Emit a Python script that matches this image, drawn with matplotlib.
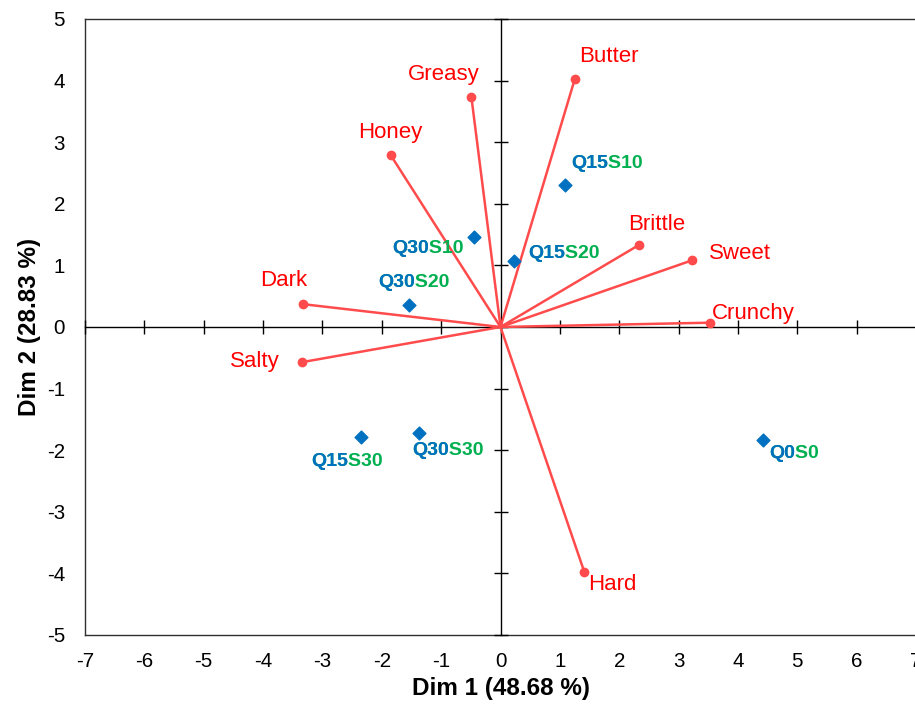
import matplotlib
matplotlib.use('Agg')
import matplotlib.pyplot as plt

# ---- data ----
var_names = ['Greasy', 'Butter', 'Honey', 'Dark', 'Salty', 'Brittle', 'Sweet', 'Crunchy', 'Hard']
var_dim1 = [-0.49, 1.25, -1.85, -3.32, -3.34, 2.33, 3.22, 3.53, 1.41]
var_dim2 = [3.73, 4.02, 2.79, 0.37, -0.57, 1.33, 1.08, 0.07, -3.97]

obs_q = ['Q15', 'Q30', 'Q15', 'Q30', 'Q15', 'Q30', 'Q0']
obs_s = ['S10', 'S10', 'S20', 'S20', 'S30', 'S30', 'S0']
obs_dim1 = [1.08, -0.45, 0.23, -1.54, -2.35, -1.37, 4.42]
obs_dim2 = [2.30, 1.46, 1.07, 0.35, -1.79, -1.72, -1.83]

x_ticks = list(range(-7, 8))
y_ticks = list(range(-5, 6))
x_title = 'Dim 1 (48.68 %)'
y_title = 'Dim 2 (28.83 %)'

# ---- label offsets (pixels) ----
var_off = [(-28, 22.7), (33.7, 22.6), (-0.5, 23), (-19.3, 23.3), (-47, 1),
           (17.4, 20.3), (48.3, 7), (43.5, 9.4), (28, -13.3)]
obs_off = [(6.7, 22.3), (-81.3, -11.7), (14, 8), (-31, 22.6), (-50, -24.4),
           (-7, -17.6), (6.3, -13.6)]

plt.rcParams['font.family'] = ['Liberation Sans', 'DejaVu Sans']
plt.rcParams['axes.unicode_minus'] = False

DPI = 100
fig = plt.figure(figsize=(9.15, 7.11), dpi=DPI)
W, H = 915, 711
left, right, top, bottom = 85, 916, 19, 635
pos = [left / W, 1 - bottom / H, (right - left) / W, (bottom - top) / H]
ax = fig.add_axes(pos)

ax.set_xlim(-7, 7)
ax.set_ylim(-5, 5)
ax.set_xticks(x_ticks)
ax.set_yticks(y_ticks)
ax.tick_params(length=0, labelsize=14.8)
ax.tick_params(axis='x', pad=12.5)
ax.tick_params(axis='y', pad=14.4)
for s in ['left', 'top', 'bottom']:
    ax.spines[s].set_color('#303030')
    ax.spines[s].set_linewidth(1.0)
ax.spines['right'].set_visible(False)
ax.set_xlabel(x_title, fontsize=17.5, fontweight='bold', labelpad=4)
ax.set_ylabel(y_title, fontsize=17.5, fontweight='bold', labelpad=4)

# central axes with crossing ticks
ax2 = fig.add_axes(pos, sharex=ax, sharey=ax)
ax2.patch.set_visible(False)
ax2.spines['left'].set_position(('data', 0))
ax2.spines['bottom'].set_position(('data', 0))
ax2.spines['top'].set_visible(False)
ax2.spines['right'].set_visible(False)
for s in ['left', 'bottom']:
    ax2.spines[s].set_color('black')
    ax2.spines[s].set_linewidth(1.0)
ax2.tick_params(direction='inout', length=10, width=1.0, labelleft=False,
                labelbottom=False, color='black')

red_line = '#FF4B4B'
red_text = '#FF0000'
blue = '#0070C0'
green = '#00B050'

for n, x, y, (dx, dy) in zip(var_names, var_dim1, var_dim2, var_off):
    ax2.plot([0, x], [0, y], color=red_line, lw=1.8, zorder=3)
    ax2.plot([x], [y], marker='o', ms=6, color=red_line, zorder=4)
    ax2.annotate(n, xy=(x, y), xytext=(dx * 72 / DPI, dy * 72 / DPI),
                 textcoords='offset points', ha='center', va='center',
                 fontsize=16, color=red_text)

ax2.scatter(obs_dim1, obs_dim2, marker='D', s=6.5 ** 2, color=blue, zorder=5)
for q, s, x, y, (dx, dy) in zip(obs_q, obs_s, obs_dim1, obs_dim2, obs_off):
    kw = dict(fontsize=14, fontweight='bold', ha='left', va='center',
              textcoords='offset points',
              xytext=(dx * 72 / DPI, dy * 72 / DPI))
    # full label in green, with the Q-part overpainted in blue
    ax2.annotate(q + s, xy=(x, y), color=green, zorder=6, **kw)
    ax2.annotate(q, xy=(x, y), color=blue, zorder=8, **kw)

fig.savefig('out.png', dpi=DPI)
